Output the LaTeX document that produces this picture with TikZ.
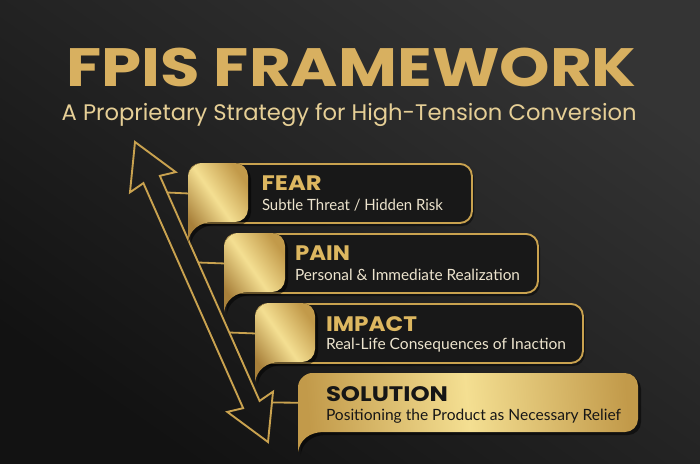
\documentclass[tikz,border=0pt]{standalone}
\usepackage{fontspec}
\usepackage{graphicx}
\usetikzlibrary{calc}
\newfontfamily\poppfont{Poppins}
\newfontfamily\latofont{Lato}
\definecolor{bgTop}{HTML}{343434}
\definecolor{bgBot}{HTML}{121212}
\definecolor{goldLine}{HTML}{C9A24F}
\definecolor{goldD}{HTML}{A8803A}
\definecolor{goldM}{HTML}{C29A4A}
\definecolor{goldL}{HTML}{F4DF92}
\definecolor{titleGold}{HTML}{D8B060}
\definecolor{subGold}{HTML}{E6CF96}
\definecolor{headGold}{HTML}{DDB760}
\definecolor{cream}{HTML}{EDE4CE}
\definecolor{boxFill}{HTML}{181818}
\definecolor{darkText}{HTML}{161616}
\newcommand\fitw[2]{\resizebox{#1}{\height}{#2}}
% gold tab with speech-bubble tail: #1 left, #2 top, #3 right, #4 bottom, #5 style
\newcommand\goldtab[5]{%
  \fill[#5] (#1,#4+20) -- (#1,#2+14)
    .. controls (#1,#2+6.3) and (#1+7.7,#2) .. (#1+14,#2)
    -- (#3-13,#2) .. controls (#3-5.8,#2) and (#3,#2+5.8) .. (#3,#2+13)
    -- (#3,#4-13) .. controls (#3,#4-5.8) and (#3-5.8,#4) .. (#3-13,#4)
    -- (#1+26,#4) .. controls (#1+11,#4) and (#1+2,#4+8) .. (#1,#4+20) -- cycle;}
\tikzset{
  outbox/.style={draw=goldLine, line width=1.9pt, fill=boxFill, rounded corners=12pt,
    anchor=north west, inner sep=0pt},
  tabgold/.style={left color=goldD, right color=goldM, middle color=goldL, shading angle=125},
  solgold/.style={left color=goldM, right color=goldM, middle color=goldL, shading angle=95},
  tabshadow/.style={fill=black, opacity=0.5},
  conn/.style={draw=goldLine, line width=1.8pt},
  arrowline/.style={draw=goldLine, line width=1.9pt, line join=miter},
  txt/.style={anchor=base west, inner sep=0pt, outer sep=0pt},
}
\begin{document}
\begin{tikzpicture}[x=1pt, y=-1pt]
\useasboundingbox (0,0) rectangle (700,463);
% background
\shade[top color=bgTop, bottom color=bgBot, shading angle=-35] (0,0) rectangle (700,463);

% title
\node[txt, text=titleGold] (title) at (66.7,86.7)
  {\fitw{570pt}{\poppfont\fontsize{54}{54}\selectfont\bfseries FPIS FRAMEWORK}};
\node[txt, text=subGold] (subtitle) at (61.7,120.7)
  {\fitw{575pt}{\poppfont\fontsize{22.5}{22.5}\selectfont A Proprietary Strategy for High-Tension Conversion}};

% double-headed arrow
\coordinate (T) at (135,142);
\coordinate (B) at (268,442);
\coordinate (Tb) at ($(T)!44pt!(B)$);
\coordinate (Tn) at ($(T)!41pt!(B)$);
\coordinate (Bb) at ($(B)!44pt!(T)$);
\coordinate (Bn) at ($(B)!41pt!(T)$);
\coordinate (Tbr) at ($(Tb)!25pt!90:(B)$);
\coordinate (Tbl) at ($(Tb)!25pt!-90:(B)$);
\coordinate (Tnr) at ($(Tn)!9pt!90:(B)$);
\coordinate (Tnl) at ($(Tn)!9pt!-90:(B)$);
\coordinate (Bbr) at ($(Bb)!25pt!-90:(T)$);
\coordinate (Bbl) at ($(Bb)!25pt!90:(T)$);
\coordinate (Bnr) at ($(Bn)!9pt!-90:(T)$);
\coordinate (Bnl) at ($(Bn)!9pt!90:(T)$);
\draw[arrowline] (T) -- (Tbr) -- (Tnr) -- (Bnr) -- (Bbr) -- (B) -- (Bbl) -- (Bnl) -- (Tnl) -- (Tbl) -- cycle;

% box shadows
\fill[black, opacity=0.45, rounded corners=12pt] (190,166) rectangle (474,226);
\fill[black, opacity=0.45, rounded corners=12pt] (226,236) rectangle (540,296);
\fill[black, opacity=0.45, rounded corners=12pt] (257,306) rectangle (585,366);

% outlined boxes
\node[outbox, minimum width=283pt, minimum height=59pt] (fear) at (188,163) {};
\node[outbox, minimum width=313pt, minimum height=59pt] (pain) at (224,233) {};
\node[outbox, minimum width=327pt, minimum height=59pt] (impact) at (255,303) {};
\node[inner sep=0pt, minimum width=340pt, minimum height=59pt, anchor=north west] (solution) at (298,373) {};

% tab shadows
\goldtab{190.5}{166}{251}{225}{tabshadow}
\goldtab{226.5}{236}{288}{295}{tabshadow}
\goldtab{257.5}{306}{318}{365}{tabshadow}
\goldtab{300.5}{376}{641}{435}{tabshadow}

% gold tabs
\goldtab{188}{163}{248}{222}{tabgold}
\goldtab{224}{233}{285}{292}{tabgold}
\goldtab{255}{303}{315}{362}{tabgold}
\goldtab{298}{373}{638}{432}{solgold}

% connectors from arrow to tabs
\coordinate (a1) at (167.2,192.5);
\coordinate (a2) at (198.2,262.5);
\coordinate (a3) at (229.3,332.5);
\coordinate (a4) at (272.0,402.5);
\draw[conn] (a1) -- (fear.west);
\draw[conn] (a2) -- (pain.west);
\draw[conn] (a3) -- (impact.west);
\draw[conn] (a4) -- (solution.west);

% texts
\node[txt, text=headGold] (fearh) at (261.7,190)
  {\fitw{60pt}{\poppfont\fontsize{21}{21}\selectfont\bfseries FEAR}};
\node[txt, text=cream] (fears) at (262,210)
  {\fitw{181pt}{\latofont\fontsize{15.5}{15.5}\selectfont Subtle Threat / Hidden Risk}};
\node[txt, text=headGold] (painh) at (295,260)
  {\fitw{55pt}{\poppfont\fontsize{21}{21}\selectfont\bfseries PAIN}};
\node[txt, text=cream] (pains) at (295,280)
  {\fitw{225pt}{\latofont\fontsize{15.5}{15.5}\selectfont Personal \& Immediate Realization}};
\node[txt, text=headGold] (impacth) at (326,331)
  {\fitw{91pt}{\poppfont\fontsize{21}{21}\selectfont\bfseries IMPACT}};
\node[txt, text=cream] (impacts) at (326,349)
  {\fitw{240pt}{\latofont\fontsize{15.5}{15.5}\selectfont Real-Life Consequences of Inaction}};
\node[txt, text=darkText] (solh) at (326,401)
  {\fitw{122pt}{\poppfont\fontsize{21}{21}\selectfont\bfseries SOLUTION}};
\node[txt, text=darkText] (sols) at (326,420)
  {\fitw{295pt}{\latofont\fontsize{15.5}{15.5}\selectfont Positioning the Product as Necessary Relief}};
\end{tikzpicture}
\end{document}
